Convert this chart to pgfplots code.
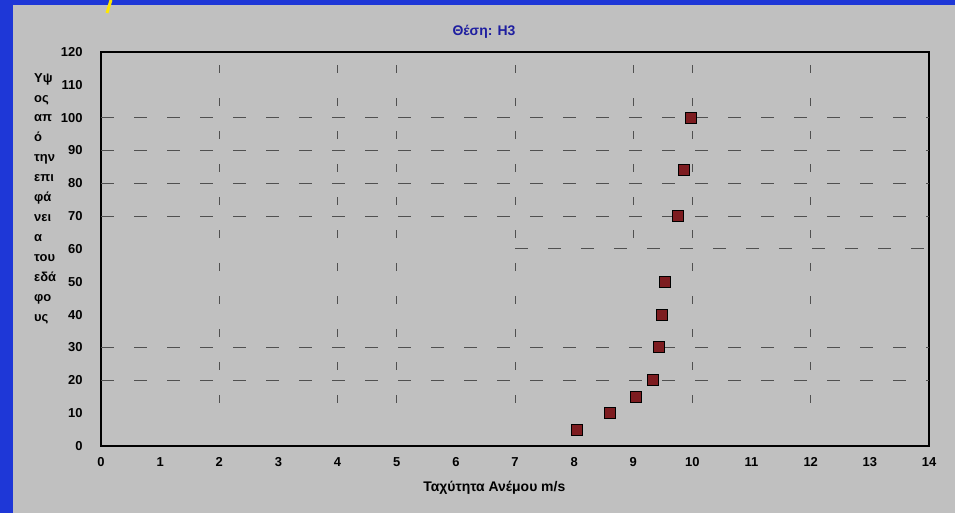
\documentclass[border=0pt]{standalone}
\usepackage{fontspec}
\setmainfont{Liberation Sans}
\usepackage{pgfplots}
\pgfplotsset{compat=1.18}
\definecolor{slideblue}{RGB}{30,55,215}
\definecolor{panelgray}{RGB}{192,192,192}
\definecolor{gridgray}{RGB}{80,80,80}
\definecolor{markred}{RGB}{125,28,32}
\definecolor{titleblue}{RGB}{30,30,160}
\begin{document}
\begin{tikzpicture}
\useasboundingbox (0,0) rectangle (955bp,513bp);
\fill[slideblue] (0,0) rectangle (955bp,513bp);
\fill[panelgray] (13bp,0) rectangle (955bp,508bp);
\draw[yellow!90!orange, line width=3bp] (111bp,513bp) -- (107bp,500bp);
\begin{axis}[
  at={(101bp,67bp)}, anchor=south west,
  scale only axis, width=828bp, height=394bp,
  xmin=0, xmax=14, ymin=0, ymax=120,
  xtick={0,...,14}, ytick={0,10,...,120},
  major tick length=0pt,
  axis line style={black, line width=1.3bp},
  tick label style={font=\bfseries\fontsize{13}{15}\selectfont},
  /pgf/number format/assume math mode=true,
  xticklabel style={yshift=-8bp},
  yticklabel style={xshift=-15bp},
  xlabel={Ταχύτητα Ανέμου m/s},
  xlabel style={at={(axis description cs:0.475,0)}, anchor=center, yshift=-42bp,
    font=\bfseries\fontsize{14}{16}\selectfont},
  clip=false,
]
% grid, as drawn in the original (partly irregular)
\begin{scope}[gridgray, line width=1bp, dash pattern=on 13bp off 20bp]
\draw (axis cs:0,100) -- (axis cs:14,100);
\draw (axis cs:0,90) -- (axis cs:14,90);
\draw (axis cs:0,80) -- (axis cs:14,80);
\draw (axis cs:0,70) -- (axis cs:14,70);
\draw (axis cs:7,60) -- (axis cs:14,60);
\draw (axis cs:0,30) -- (axis cs:14,30);
\draw (axis cs:0,20) -- (axis cs:14,20);
\end{scope}
\begin{scope}[gridgray, line width=1bp, dash pattern=on 8bp off 25bp]
\draw (axis cs:2,116) -- (axis cs:2,8);
\draw (axis cs:4,116) -- (axis cs:4,8);
\draw (axis cs:5,116) -- (axis cs:5,8);
\draw (axis cs:7,116) -- (axis cs:7,8);
\draw (axis cs:9,116) -- (axis cs:9,60);
\draw (axis cs:10,116) -- (axis cs:10,8);
\draw (axis cs:12,116) -- (axis cs:12,8);
\end{scope}
\addplot[only marks, mark=square*, mark size=5.5bp,
  mark options={fill=markred, draw=black, line width=1bp}] coordinates {
  (8.05,5) (8.6,10) (9.04,15) (9.34,20) (9.43,30) (9.48,40)
  (9.53,50) (9.75,70) (9.85,84) (9.97,100)};
\end{axis}
\node[titleblue, font=\bfseries\fontsize{14}{16}\selectfont] at (484bp,481bp) {Θέση: Η3};
\node[align=left, anchor=north west, inner sep=0pt,
  font=\bfseries\fontsize{13}{20}\selectfont] at (34bp,440bp)
  {Υψ\\ος\\απ\\ό\\την\\επι\\φά\\νει\\α\\του\\εδά\\φο\\υς};
\end{tikzpicture}
\end{document}
